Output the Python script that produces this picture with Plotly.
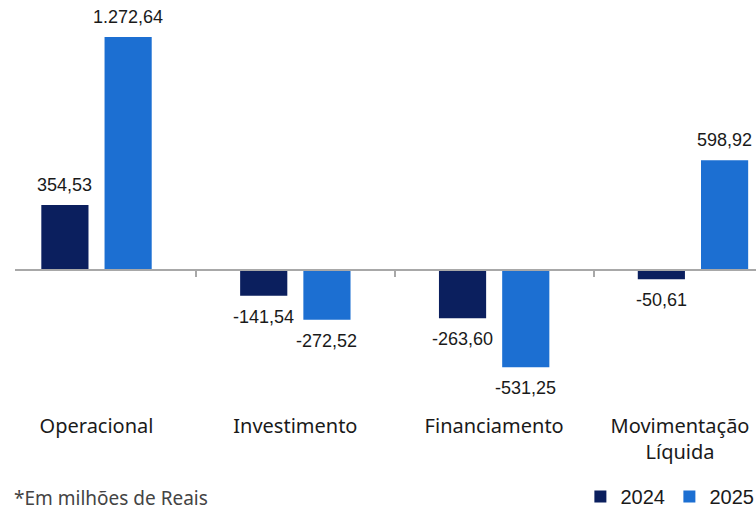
import plotly.graph_objects as go

categorias = ["Operacional", "Investimento", "Financiamento", "Movimentação<br>Líquida"]
valores_2024 = [354.53, -141.54, -263.60, -50.61]
valores_2025 = [1272.64, -272.52, -531.25, 598.92]
anos = ["2024", "2025"]


def fmt_br(v):
    """Formata número no padrão brasileiro (1.234,56)."""
    s = f"{v:,.2f}"
    return s.replace(",", "X").replace(".", ",").replace("X", ".")


x = list(range(len(categorias)))
x_range = [-0.41, 3.317]
bargap = 0.364
slot = (1 - bargap) / 2  # largura de cada barra dentro do grupo

fig = go.Figure()
rotulos = []
for j, (nome, vals, cor) in enumerate([(anos[0], valores_2024, "#0b1f5e"),
                                        (anos[1], valores_2025, "#1c6fd2")]):
    fig.add_trace(go.Bar(
        x=x, y=vals, name=nome,
        marker=dict(color=cor, line=dict(width=0)),
        hoverinfo="y",
    ))
    for i, v in enumerate(vals):
        rotulos.append(dict(
            x=i + (j - 0.5) * slot, y=v, xref="x", yref="y",
            text=fmt_br(v), showarrow=False,
            yanchor="middle", yshift=20 if v >= 0 else -21,
            font=dict(family="Liberation Sans", size=18, color="#1a1a1a"),
        ))

# traço invisível só para desenhar o eixo com os nomes das categorias
fig.add_trace(go.Scatter(
    x=x, y=[0] * len(x), xaxis="x2", mode="markers",
    marker=dict(opacity=0), showlegend=False, hoverinfo="skip",
))

rotulos.append(dict(
    text="*Em milhões de Reais", xref="paper", yref="paper",
    x=-0.004, y=-0.209, xanchor="left", yanchor="middle", showarrow=False,
    font=dict(family="Noto Sans", size=19, color="#444444"),
))

# o último rótulo fica um pouco à esquerda para caber na imagem
pos_rotulos = [0, 1, 2, 2.935]

fig.update_layout(
    width=756, height=510,
    barmode="group", bargap=bargap, bargroupgap=0.254,
    paper_bgcolor="white", plot_bgcolor="white",
    margin=dict(l=15, r=0, t=0, b=98, autoexpand=False),
    xaxis=dict(
        range=x_range, anchor="free", position=0.3447,
        showline=True, linecolor="#a8a8a8", linewidth=1.5,
        tickmode="array", tickvals=[0.5, 1.5, 2.5],
        ticks="outside", ticklen=6, tickcolor="#a8a8a8", tickwidth=1.5,
        showticklabels=False, showgrid=False, zeroline=False,
    ),
    xaxis2=dict(
        range=x_range, overlaying="x", anchor="y", side="bottom",
        tickmode="array", tickvals=pos_rotulos, ticktext=categorias,
        tickfont=dict(family="Noto Sans", size=20, color="#1a1a1a"),
        ticklabeloverflow="allow",
        showline=False, showgrid=False, zeroline=False, ticks="",
    ),
    yaxis=dict(range=[-776, 1475], visible=False, showgrid=False, zeroline=False),
    legend=dict(
        orientation="h", x=0.763, y=-0.205, xanchor="left", yanchor="middle",
        font=dict(family="Liberation Sans", size=20, color="#1a1a1a"),
        entrywidth=44, entrywidthmode="pixels",
        bgcolor="rgba(0,0,0,0)",
    ),
    annotations=rotulos,
)

fig.write_html("out.html", config={"displayModeBar": False},
               post_script="document.body.style.margin='0';")
